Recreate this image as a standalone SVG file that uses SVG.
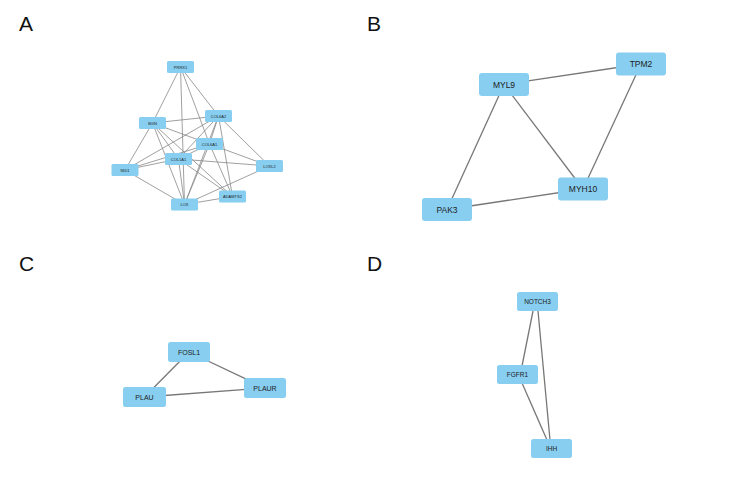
<svg xmlns="http://www.w3.org/2000/svg" width="750" height="494" viewBox="0 0 750 494">
<style>
.bg{fill:#ffffff}
.n rect{fill:#87CEF0;stroke:none}
.n text{font-family:"Liberation Sans",Arial,sans-serif;fill:#222;text-anchor:middle;dominant-baseline:central}
.a text{font-size:4px}
.b text{font-size:8.5px}
.c text{font-size:7px}
.d text{font-size:6.5px}
.e line{stroke:#888;stroke-width:0.8}
.eb line{stroke:#777;stroke-width:1.3}
.lab{font-family:"Liberation Sans",Arial,sans-serif;font-size:21px;fill:#111}
</style>
<rect class="bg" width="750" height="494"/>
<text class="lab" x="19" y="31">A</text>
<text class="lab" x="367" y="31">B</text>
<text class="lab" x="19" y="271">C</text>
<text class="lab" x="367" y="271">D</text>

<g id="edges-A" class="e">
<line x1="180.5" y1="67" x2="152.5" y2="123"/>
<line x1="180.5" y1="67" x2="184.5" y2="204.5"/>
<line x1="180.5" y1="67" x2="218.5" y2="116"/>
<line x1="180.5" y1="67" x2="209.5" y2="144"/>
<line x1="152.5" y1="123" x2="218.5" y2="116"/>
<line x1="152.5" y1="123" x2="209.5" y2="144"/>
<line x1="152.5" y1="123" x2="178.5" y2="159"/>
<line x1="152.5" y1="123" x2="125" y2="170"/>
<line x1="152.5" y1="123" x2="184.5" y2="204.5"/>
<line x1="152.5" y1="123" x2="232.5" y2="196.5"/>
<line x1="218.5" y1="116" x2="209.5" y2="144"/>
<line x1="218.5" y1="116" x2="178.5" y2="159"/>
<line x1="218.5" y1="116" x2="125" y2="170"/>
<line x1="218.5" y1="116" x2="184.5" y2="204.5"/>
<line x1="218.5" y1="116" x2="269.5" y2="166"/>
<line x1="218.5" y1="116" x2="232.5" y2="196.5"/>
<line x1="209.5" y1="144" x2="178.5" y2="159"/>
<line x1="209.5" y1="144" x2="125" y2="170"/>
<line x1="209.5" y1="144" x2="269.5" y2="166"/>
<line x1="209.5" y1="144" x2="184.5" y2="204.5"/>
<line x1="209.5" y1="144" x2="232.5" y2="196.5"/>
<line x1="178.5" y1="159" x2="125" y2="170"/>
<line x1="178.5" y1="159" x2="269.5" y2="166"/>
<line x1="178.5" y1="159" x2="232.5" y2="196.5"/>
<line x1="178.5" y1="159" x2="184.5" y2="204.5"/>
<line x1="125" y1="170" x2="184.5" y2="204.5"/>
<line x1="269.5" y1="166" x2="184.5" y2="204.5"/>
<line x1="232.5" y1="196.5" x2="184.5" y2="204.5"/>
</g>
<g id="edges-B" class="eb">
<line x1="504" y1="84.5" x2="641" y2="64"/>
<line x1="504" y1="84.5" x2="447" y2="209.5"/>
<line x1="504" y1="84.5" x2="583" y2="189"/>
<line x1="641" y1="64" x2="583" y2="189"/>
<line x1="447" y1="209.5" x2="583" y2="189"/>
</g>
<g id="edges-C" class="eb">
<line x1="189" y1="352" x2="144.5" y2="397"/>
<line x1="189" y1="352" x2="265" y2="388"/>
<line x1="144.5" y1="397" x2="265" y2="388"/>
</g>
<g id="edges-D" class="eb">
<line x1="533" y1="311" x2="522" y2="366"/>
<line x1="538" y1="311" x2="550" y2="440"/>
<line x1="522" y1="383" x2="547" y2="440"/>
</g>

<g id="PRRX1" class="n a"><rect x="167" y="61" width="27" height="12" rx="1.5"/><text x="180.5" y="67">PRRX1</text></g>
<g id="COL6A2" class="n a"><rect x="205" y="110" width="27" height="12" rx="1.5"/><text x="218.5" y="116">COL6A2</text></g>
<g id="BGN" class="n a"><rect x="139" y="117" width="27" height="12" rx="1.5"/><text x="152.5" y="123">BGN</text></g>
<g id="COL6A1" class="n a"><rect x="196" y="138" width="27" height="12" rx="1.5"/><text x="209.5" y="144">COL6A1</text></g>
<g id="COL1A1" class="n a"><rect x="165" y="153" width="27" height="12" rx="1.5"/><text x="178.5" y="159">COL1A1</text></g>
<g id="NID1" class="n a"><rect x="111.5" y="164" width="27" height="12" rx="1.5"/><text x="125" y="170">NID1</text></g>
<g id="LOXL2" class="n a"><rect x="256" y="160" width="27" height="12" rx="1.5"/><text x="269.5" y="166">LOXL2</text></g>
<g id="ADAMTS2" class="n a"><rect x="219" y="190.5" width="27" height="12" rx="1.5"/><text x="232.5" y="196.5">ADAMTS2</text></g>
<g id="LOX" class="n a"><rect x="171" y="198.5" width="27" height="12" rx="1.5"/><text x="184.5" y="204.5">LOX</text></g>

<g id="MYL9" class="n b"><rect x="479" y="73" width="50" height="23" rx="3"/><text x="504" y="84.5">MYL9</text></g>
<g id="TPM2" class="n b"><rect x="616" y="52.5" width="50" height="23" rx="3"/><text x="641" y="64">TPM2</text></g>
<g id="MYH10" class="n b"><rect x="558" y="177.5" width="50" height="23" rx="3"/><text x="583" y="189">MYH10</text></g>
<g id="PAK3" class="n b"><rect x="422" y="198" width="50" height="23" rx="3"/><text x="447" y="209.5">PAK3</text></g>

<g id="FOSL1" class="n c"><rect x="168" y="342" width="42" height="20" rx="2.5"/><text x="189" y="352">FOSL1</text></g>
<g id="PLAU" class="n c"><rect x="123" y="387" width="43" height="20" rx="2.5"/><text x="144.5" y="397">PLAU</text></g>
<g id="PLAUR" class="n c"><rect x="244" y="378" width="42" height="20" rx="2.5"/><text x="265" y="388">PLAUR</text></g>

<g id="NOTCH3" class="n d"><rect x="517" y="292" width="41" height="19" rx="2.5"/><text x="537.5" y="301.5">NOTCH3</text></g>
<g id="FGFR1" class="n d"><rect x="497" y="365" width="41" height="19" rx="2.5"/><text x="517.5" y="374.5">FGFR1</text></g>
<g id="IHH" class="n d"><rect x="531" y="439" width="41" height="19" rx="2.5"/><text x="551.5" y="448.5">IHH</text></g>
</svg>
